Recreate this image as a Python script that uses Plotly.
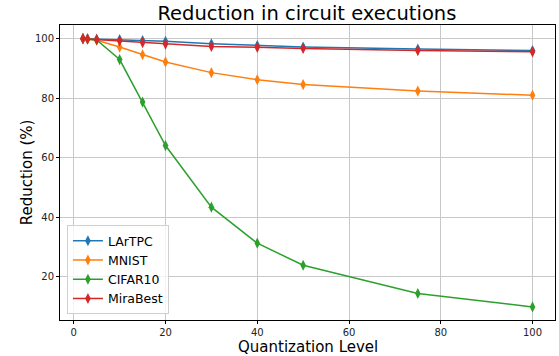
import plotly.graph_objects as go

quant_levels = [2, 3, 5, 10, 15, 20, 30, 40, 50, 75, 100]
lartpc = [100.0, 99.95, 99.85, 99.7, 99.4, 99.1, 98.3, 97.7, 97.2, 96.5, 96.0]
mnist = [100.0, 99.9, 99.5, 97.2, 94.6, 92.2, 88.6, 86.2, 84.6, 82.4, 81.0]
cifar10 = [100.0, 99.9, 99.6, 93.0, 78.7, 64.1, 43.4, 31.3, 23.9, 14.4, 9.9]
mirabest = [100.0, 99.9, 99.7, 99.3, 98.7, 98.2, 97.4, 97.1, 96.7, 96.0, 95.6]

series_names = ["LArTPC", "MNIST", "CIFAR10", "MiraBest"]
series_values = [lartpc, mnist, cifar10, mirabest]
colors = ["#1f77b4", "#ff7f0e", "#2ca02c", "#d62728"]

x_ticks = [0, 20, 40, 60, 80, 100]
y_ticks = [20, 40, 60, 80, 100]

fig = go.Figure()
for name, vals, c in zip(series_names, series_values, colors):
    fig.add_trace(go.Scatter(
        x=quant_levels, y=vals, name=name, mode="lines+markers",
        line=dict(color=c, width=1.5),
        marker=dict(symbol="diamond-tall", size=8, color=c, line=dict(width=0)),
    ))

axis_common = dict(
    showline=True, linecolor="black", linewidth=1, mirror=True,
    ticks="outside", ticklen=3, tickcolor="black", tickwidth=1,
    showgrid=True, gridcolor="#c8c8c8", gridwidth=1, zeroline=False,
    automargin=False,
    tickfont=dict(family="DejaVu Sans", size=10, color="#222222"),
)

fig.update_layout(
    width=559, height=356,
    margin=dict(l=60, r=4, t=25, b=36, autoexpand=False),
    paper_bgcolor="white", plot_bgcolor="white",
    font=dict(family="DejaVu Sans", color="black"),
    title=dict(text="Reduction in circuit executions", x=0.549, xanchor="center",
               y=0.962, yanchor="middle", yref="container", automargin=False,
               font=dict(family="DejaVu Sans", size=19.5, color="black")),
    xaxis=dict(axis_common, range=[-3.0, 104.9], tickvals=x_ticks),
    yaxis=dict(axis_common, range=[5.5, 104.6], tickvals=y_ticks),
    legend=dict(x=0.014, y=0.02, xanchor="left", yanchor="bottom",
                bgcolor="rgba(255,255,255,0.8)", bordercolor="#d0d0d0", borderwidth=1,
                font=dict(family="DejaVu Sans", size=12.5), tracegroupgap=0),
    showlegend=True,
    annotations=[
        dict(text="Quantization Level", xref="paper", yref="paper",
             x=0.5, y=-0.09, xanchor="center", yanchor="middle", showarrow=False,
             font=dict(family="DejaVu Sans", size=15, color="black")),
        dict(text="Reduction (%)", xref="paper", yref="paper",
             x=-0.067, y=0.5, xanchor="center", yanchor="middle", showarrow=False,
             textangle=-90, font=dict(family="DejaVu Sans", size=15, color="black")),
    ],
)

fig.write_html("out.html", config={"displayModeBar": False},
               post_script="document.body.style.margin='0px';document.body.style.overflow='hidden';")
